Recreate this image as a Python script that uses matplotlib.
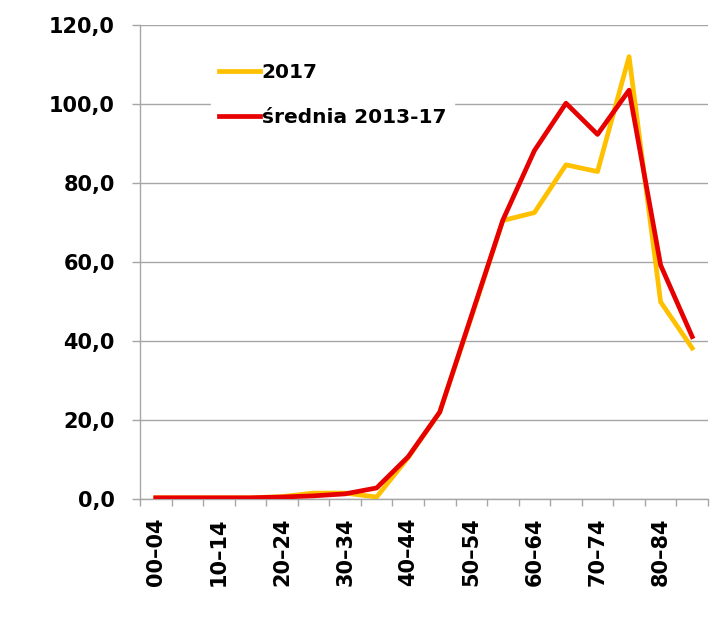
import numpy as np
import matplotlib.pyplot as plt

# grupy wieku
groups = ['00–04', '05–09', '10–14', '15–19', '20–24', '25–29', '30–34', '35–39',
          '40–44', '45–49', '50–54', '55–59', '60–64', '65–69', '70–74', '75–79',
          '80–84', '85+']
y2017 = [0.3, 0.3, 0.3, 0.3, 0.6, 1.5, 1.5, 0.5, 10.5, 22.0, 46.0, 70.5,
         72.5, 84.6, 82.9, 112.0, 49.9, 38.2]
avg_2013_17 = [0.3, 0.3, 0.3, 0.3, 0.5, 0.8, 1.3, 2.8, 10.7, 22.0, 46.3, 70.6,
               88.2, 100.2, 92.3, 103.5, 59.2, 41.1]
yticks = [0, 20, 40, 60, 80, 100, 120]

plt.rcParams['font.family'] = ['DejaVu Sans']
plt.rcParams['font.weight'] = 'bold'

fig = plt.figure(figsize=(7.23, 6.25), dpi=100)
ax = fig.add_axes([0.1936, 0.2016, 0.7856, 0.7584])

x = np.arange(len(groups))
ax.plot(x, y2017, color='#FFC000', lw=3.4, label='2017', zorder=3)
ax.plot(x, avg_2013_17, color='#E60000', lw=3.4, label='średnia 2013-17', zorder=4)

ax.set_xlim(-0.5, len(groups) - 0.5)
ax.set_ylim(0, 120)
ax.set_yticks(yticks)
ax.set_yticklabels([f'{v:.1f}'.replace('.', ',') for v in yticks], fontsize=15, fontweight='bold')
ax.yaxis.grid(True, color='#A6A6A6', lw=1.0)
ax.set_axisbelow(True)

# etykiety co druga grupa, kreski na granicach
ax.set_xticks(x[::2])
ax.set_xticklabels(groups[::2], rotation=90, fontsize=15, fontweight='bold')
ax.set_xticks(np.arange(len(groups) + 1) - 0.5, minor=True)
ax.tick_params(axis='x', which='major', length=0, pad=13)
ax.tick_params(axis='x', which='minor', length=5, color='#A6A6A6', width=1)
ax.tick_params(axis='y', length=6, color='#A6A6A6', width=1, pad=12)

for s in ['top', 'right']:
    ax.spines[s].set_visible(False)
for s in ['left', 'bottom']:
    ax.spines[s].set_color('#A6A6A6')
    ax.spines[s].set_linewidth(1)

leg = ax.legend(loc='upper left', bbox_to_anchor=(0.108, 0.958), frameon=True,
                edgecolor='white', facecolor='white', framealpha=1, fancybox=False,
                prop={'size': 14.5, 'weight': 'bold'}, handlelength=2.0,
                handletextpad=0.1, labelspacing=1.3)
leg.set_zorder(5)

plt.savefig('out.png', dpi=100)
